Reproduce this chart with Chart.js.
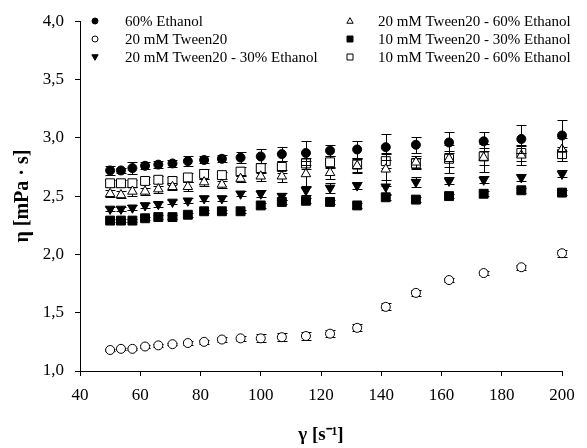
<!DOCTYPE html>
<html>
<head>
<meta charset="utf-8">
<script src="https://cdn.jsdelivr.net/npm/chart.js@4.4.0/dist/chart.umd.min.js"></script>
<style>
  body { margin: 0; background: #fff; }
  canvas { display: block; }
</style>
</head>
<body>
<canvas id="viscChart" width="587" height="448"></canvas>
<script>
// shear rate values (s^-1)
const shearRate = [50, 53.6, 57.4, 61.6, 66, 70.7, 75.8, 81.2, 87.1, 93.3, 100,
    107, 115, 123, 132, 141.5, 151.5, 162.5, 174, 186.5, 200];

const seriesNames = [
    '60% Ethanol',
    '20 mM Tween20',
    '20 mM Tween20 - 30% Ethanol',
    '20 mM Tween20 - 60% Ethanol',
    '10 mM Tween20 - 30% Ethanol',
    '10 mM Tween20 - 60% Ethanol'
];

const ethanol60 = [2.72, 2.72, 2.74, 2.76, 2.77, 2.78, 2.80, 2.81, 2.82, 2.83, 2.84,
    2.86, 2.87, 2.89, 2.90, 2.92, 2.94, 2.96, 2.97, 2.99, 3.02];
const ethanol60Err = [0.04, 0.02, 0.05, 0.03, 0.03, 0.03, 0.04, 0.03, 0.03, 0.05, 0.06,
    0.06, 0.10, 0.05, 0.07, 0.11, 0.07, 0.09, 0.08, 0.12, 0.13];

const tween20 = [1.18, 1.19, 1.19, 1.21, 1.22, 1.23, 1.24, 1.25, 1.27, 1.28, 1.28,
    1.29, 1.30, 1.32, 1.37, 1.55, 1.67, 1.78, 1.84, 1.89, 2.01];
const tween20Err = [0.01, 0.01, 0.01, 0.01, 0.01, 0.01, 0.015, 0.02, 0.02, 0.02, 0.035,
    0.035, 0.035, 0.03, 0.03, 0.03, 0.025, 0.02, 0.02, 0.02, 0.03];

const tw20eth30 = [2.39, 2.39, 2.40, 2.42, 2.43, 2.45, 2.46, 2.48, 2.48, 2.52, 2.52,
    2.50, 2.55, 2.57, 2.59, 2.58, 2.62, 2.63, 2.64, 2.66, 2.69];
const tw20eth30Err = [0.02, 0.02, 0.02, 0.02, 0.02, 0.02, 0.02, 0.02, 0.02, 0.02, 0.03,
    0.03, 0.04, 0.04, 0.03, 0.06, 0.04, 0.03, 0.03, 0.03, 0.03];

const tw20eth60 = [2.52, 2.51, 2.54, 2.54, 2.56, 2.58, 2.58, 2.62, 2.60, 2.65, 2.67,
    2.67, 2.69, 2.70, 2.76, 2.73, 2.79, 2.82, 2.83, 2.85, 2.90];
const tw20eth60Err = [0.03, 0.03, 0.04, 0.03, 0.03, 0.03, 0.04, 0.03, 0.03, 0.03, 0.04,
    0.05, 0.11, 0.05, 0.06, 0.14, 0.05, 0.12, 0.12, 0.08, 0.10];

const tw10eth30 = [2.29, 2.29, 2.29, 2.31, 2.32, 2.32, 2.34, 2.37, 2.37, 2.37, 2.42,
    2.45, 2.46, 2.45, 2.42, 2.49, 2.47, 2.50, 2.52, 2.55, 2.53];
const tw10eth30Err = [0.015, 0.015, 0.015, 0.015, 0.015, 0.015, 0.015, 0.015, 0.015, 0.015, 0.02,
    0.02, 0.02, 0.02, 0.02, 0.02, 0.02, 0.02, 0.02, 0.02, 0.02];

const tw10eth60 = [2.61, 2.61, 2.61, 2.63, 2.64, 2.63, 2.66, 2.69, 2.68, 2.71, 2.74,
    2.75, 2.78, 2.79, 2.77, 2.80, 2.78, 2.82, 2.84, 2.87, 2.86];
const tw10eth60Err = [0.03, 0.03, 0.03, 0.03, 0.03, 0.03, 0.04, 0.04, 0.03, 0.04, 0.04,
    0.05, 0.05, 0.05, 0.06, 0.06, 0.05, 0.07, 0.07, 0.07, 0.06];

const yTickLabels = ['1,0', '1,5', '2,0', '2,5', '3,0', '3,5', '4,0'];
const xTickLabels = ['40', '60', '80', '100', '120', '140', '160', '180', '200'];

const FONT = "'Liberation Serif', 'Times New Roman', serif";

function toPoints(vals) {
    return shearRate.map((x, i) => ({ x: x, y: vals[i] }));
}

function makeSet(idx, vals, errs, style, filled, size, rot) {
    return {
        label: seriesNames[idx],
        data: toPoints(vals),
        errors: errs,
        pointStyle: style,
        pointRotation: rot || 0,
        pointRadius: size,
        pointHoverRadius: size,
        backgroundColor: filled ? '#000' : '#fff',
        borderColor: '#000',
        borderWidth: 1,
        showLine: false,
        clip: false
    };
}

// error bars drawn under each dataset's markers
const errorBars = {
    id: 'errorBars',
    beforeDatasetDraw(chart, args) {
        const ds = chart.data.datasets[args.index];
        if (!ds.errors) return;
        const ctx = chart.ctx;
        const xs = chart.scales.x, ys = chart.scales.y;
        ctx.save();
        ctx.strokeStyle = '#000';
        ctx.lineWidth = 1;
        ds.data.forEach((p, i) => {
            const e = ds.errors[i];
            const px = Math.round(xs.getPixelForValue(p.x)) + 0.5;
            const top = Math.round(ys.getPixelForValue(p.y + e)) + 0.5;
            const bot = Math.round(ys.getPixelForValue(p.y - e)) + 0.5;
            ctx.beginPath();
            ctx.moveTo(px, top); ctx.lineTo(px, bot);
            ctx.moveTo(px - 5, top); ctx.lineTo(px + 5, top);
            ctx.moveTo(px - 5, bot); ctx.lineTo(px + 5, bot);
            ctx.stroke();
        });
        ctx.restore();
    }
};

function drawMarker(ctx, ds, x, y, r) {
    ctx.beginPath();
    if (ds.pointStyle === 'circle') {
        ctx.arc(x, y, r, 0, Math.PI * 2);
    } else if (ds.pointStyle === 'rect') {
        ctx.rect(x - r, y - r, 2 * r, 2 * r);
    } else {
        const s = ds.pointRotation ? -1 : 1;
        ctx.moveTo(x, y - s * r * 1.1);
        ctx.lineTo(x + r * 1.05, y + s * r * 0.75);
        ctx.lineTo(x - r * 1.05, y + s * r * 0.75);
        ctx.closePath();
    }
    ctx.fillStyle = ds.backgroundColor;
    ctx.fill();
    ctx.strokeStyle = '#000';
    ctx.lineWidth = 1;
    ctx.stroke();
}

// two-column legend inside the plot
const innerLegend = {
    id: 'innerLegend',
    afterDraw(chart) {
        const ctx = chart.ctx;
        const cols = [{ mx: 95, tx: 125 }, { mx: 350, tx: 378 }];
        const rows = [21, 39, 57];
        ctx.save();
        ctx.font = '15px ' + FONT;
        ctx.textBaseline = 'middle';
        ctx.fillStyle = '#000';
        chart.data.datasets.forEach((ds, i) => {
            const c = cols[Math.floor(i / 3)];
            const y = rows[i % 3];
            drawMarker(ctx, ds, c.mx, y, 3);
            ctx.fillStyle = '#000';
            ctx.fillText(ds.label, c.tx, y + 1);
        });
        ctx.restore();
    }
};

const ctx = document.getElementById('viscChart');
new Chart(ctx, {
    type: 'scatter',
    data: {
        datasets: [
            makeSet(0, ethanol60, ethanol60Err, 'circle', true, 4.5),
            makeSet(1, tween20, tween20Err, 'circle', false, 4.5),
            makeSet(2, tw20eth30, tw20eth30Err, 'triangle', true, 5.5, 180),
            makeSet(3, tw20eth60, tw20eth60Err, 'triangle', false, 5.5),
            makeSet(4, tw10eth30, tw10eth30Err, 'rect', true, 6.3),
            makeSet(5, tw10eth60, tw10eth60Err, 'rect', false, 6.3)
        ]
    },
    options: {
        responsive: false,
        animation: false,
        devicePixelRatio: 1,
        layout: { padding: { top: 21, right: 25, left: 0, bottom: 0 } },
        plugins: {
            legend: { display: false },
            tooltip: { enabled: false }
        },
        scales: {
            x: {
                type: 'linear',
                min: 40,
                max: 200,
                afterFit: s => { s.height = 77; },
                ticks: {
                    stepSize: 20,
                    color: '#000',
                    padding: 9,
                    font: { family: FONT, size: 17 },
                    callback: (v, i) => xTickLabels[i]
                },
                grid: { drawOnChartArea: false, drawTicks: true, tickLength: 5, color: '#000' },
                border: { display: true, color: '#000', width: 1 },
                title: {
                    display: true,
                    text: 'γ [s⁻¹]',
                    color: '#000',
                    font: { family: FONT, size: 19, weight: 'bold' },
                    padding: { top: 0, bottom: 2 }
                }
            },
            y: {
                type: 'linear',
                min: 1,
                max: 4,
                afterFit: s => { s.width = 80; },
                ticks: {
                    stepSize: 0.5,
                    color: '#000',
                    padding: 11,
                    font: { family: FONT, size: 17 },
                    callback: (v, i) => yTickLabels[i]
                },
                grid: { drawOnChartArea: false, drawTicks: true, tickLength: 5, color: '#000' },
                border: { display: true, color: '#000', width: 1 },
                title: {
                    display: true,
                    text: 'η [mPa · s]',
                    color: '#000',
                    font: { family: FONT, size: 20, weight: 'bold' },
                    padding: { top: 11, bottom: 0 }
                }
            }
        }
    },
    plugins: [errorBars, innerLegend]
});
</script>
</body>
</html>
